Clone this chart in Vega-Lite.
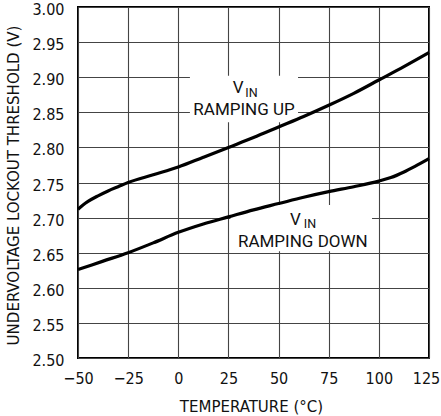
{
  "$schema": "https://vega.github.io/schema/vega-lite/v6.json",
  "width": 351,
  "height": 351,
  "autosize": {"type": "none"},
  "padding": {"left": 78, "top": 7, "right": 12, "bottom": 58},
  "background": "white",
  "config": {
    "view": {"stroke": "#000", "strokeWidth": 2},
    "axis": {
      "labelFont": "DejaVu Sans Condensed, sans-serif",
      "titleFont": "DejaVu Sans Condensed, sans-serif",
      "labelFontSize": 16,
      "titleFontSize": 16.7,
      "titleFontWeight": "normal",
      "labelColor": "#111",
      "titleColor": "#111",
      "ticks": false,
      "tickSize": 0,
      "domain": false,
      "grid": true,
      "gridColor": "#444",
      "gridWidth": 1.1,
      "labelFlush": false,
      "labelOverlap": false
    }
  },
  "datasets": {
    "curves": [
      {"series": "up", "t": -50, "v": 2.712},
      {"series": "up", "t": -47.5, "v": 2.718},
      {"series": "up", "t": -45, "v": 2.723},
      {"series": "up", "t": -40, "v": 2.731},
      {"series": "up", "t": -35, "v": 2.738},
      {"series": "up", "t": -30, "v": 2.744},
      {"series": "up", "t": -25, "v": 2.750},
      {"series": "up", "t": -12.5, "v": 2.761},
      {"series": "up", "t": 0, "v": 2.772},
      {"series": "up", "t": 12.5, "v": 2.786},
      {"series": "up", "t": 25, "v": 2.800},
      {"series": "up", "t": 37.5, "v": 2.814},
      {"series": "up", "t": 50, "v": 2.829},
      {"series": "up", "t": 62.5, "v": 2.844},
      {"series": "up", "t": 75, "v": 2.860},
      {"series": "up", "t": 87.5, "v": 2.877},
      {"series": "up", "t": 100, "v": 2.896},
      {"series": "up", "t": 112.5, "v": 2.915},
      {"series": "up", "t": 125, "v": 2.935},
      {"series": "down", "t": -50, "v": 2.626},
      {"series": "down", "t": -37.5, "v": 2.638},
      {"series": "down", "t": -25, "v": 2.650},
      {"series": "down", "t": -12.5, "v": 2.664},
      {"series": "down", "t": 0, "v": 2.679},
      {"series": "down", "t": 12.5, "v": 2.691},
      {"series": "down", "t": 25, "v": 2.701},
      {"series": "down", "t": 37.5, "v": 2.711},
      {"series": "down", "t": 50, "v": 2.720},
      {"series": "down", "t": 62.5, "v": 2.729},
      {"series": "down", "t": 75, "v": 2.737},
      {"series": "down", "t": 87.5, "v": 2.744},
      {"series": "down", "t": 100, "v": 2.752},
      {"series": "down", "t": 106, "v": 2.757},
      {"series": "down", "t": 112.5, "v": 2.765},
      {"series": "down", "t": 118, "v": 2.773},
      {"series": "down", "t": 125, "v": 2.784}
    ],
    "boxes": [
      {"t": 5.8, "t2": 59.7, "v": 2.836, "v2": 2.902},
      {"t": 26, "t2": 96.6, "v": 2.652, "v2": 2.718}
    ],
    "mainText": [
      {"t": 27.1, "v": 2.877, "text": "V"},
      {"t": 55.7, "v": 2.6895, "text": "V"}
    ],
    "subText": [
      {"t": 33.4, "v": 2.8718, "text": "IN"},
      {"t": 62.6, "v": 2.6850, "text": "IN"}
    ],
    "rampText": [
      {"t": 32.8, "v": 2.8462, "text": "RAMPING UP"},
      {"t": 62.1, "v": 2.6580, "text": "RAMPING DOWN"}
    ]
  },
  "encoding": {
    "x": {
      "field": "t",
      "type": "quantitative",
      "scale": {"domain": [-50, 125], "nice": false, "zero": false},
      "axis": {
        "values": [-50, -25, 0, 25, 50, 75, 100, 125],
        "labelPadding": 12,
        "labelOffset": {"condition": {"test": "datum.value == 125", "value": -3}, "value": 0},
        "title": "TEMPERATURE (°C)",
        "titleX": 173,
        "titleY": 53,
        "titleAlign": "center",
        "titleBaseline": "alphabetic"
      }
    },
    "y": {
      "field": "v",
      "type": "quantitative",
      "scale": {"domain": [2.5, 3.0], "nice": false, "zero": false},
      "axis": {
        "values": [2.5, 2.55, 2.6, 2.65, 2.7, 2.75, 2.8, 2.85, 2.9, 2.95, 3.0],
        "format": ".2f",
        "labelPadding": 14,
        "labelOffset": 2.5,
        "title": "UNDERVOLTAGE LOCKOUT THRESHOLD (V)",
        "titleAngle": -90,
        "titleX": -60,
        "titleY": 178,
        "titleAlign": "center",
        "titleBaseline": "alphabetic"
      }
    }
  },
  "layer": [
    {
      "data": {"name": "boxes"},
      "mark": {"type": "rect", "fill": "white", "stroke": null},
      "encoding": {
        "x2": {"field": "t2"},
        "y2": {"field": "v2"}
      }
    },
    {
      "data": {"name": "curves"},
      "mark": {"type": "line", "color": "#000", "strokeWidth": 3.2, "interpolate": "monotone"},
      "encoding": {
        "detail": {"field": "series", "type": "nominal"}
      }
    },
    {
      "data": {"name": "mainText"},
      "mark": {"type": "text", "align": "left", "baseline": "alphabetic", "font": "Roboto", "fontSize": 17, "color": "#111"},
      "encoding": {"text": {"field": "text"}}
    },
    {
      "data": {"name": "subText"},
      "mark": {"type": "text", "align": "left", "baseline": "alphabetic", "font": "Roboto", "fontSize": 12.5, "color": "#111"},
      "encoding": {"text": {"field": "text"}}
    },
    {
      "data": {"name": "rampText"},
      "mark": {"type": "text", "align": "center", "baseline": "alphabetic", "font": "Roboto", "fontSize": 17, "color": "#111"},
      "encoding": {"text": {"field": "text"}}
    }
  ]
}
